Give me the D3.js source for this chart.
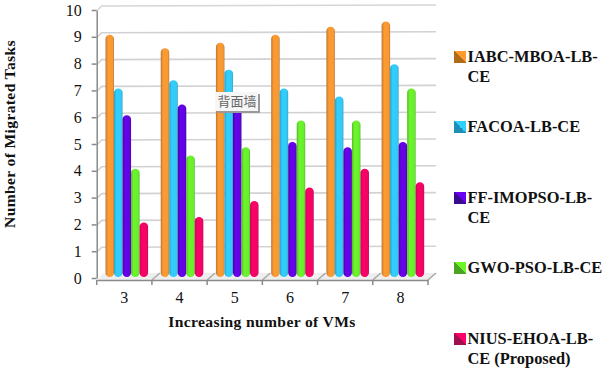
<!DOCTYPE html>
<meta charset="utf-8">
<style>
body { margin: 0; background: #fff; }
svg { display: block; }
text { font-family: "Liberation Serif", serif; fill: #111; }
.tick text { font-size: 16px; }
.axis path, .axis line { stroke: #8a8a8a; stroke-width: 1.5; }
.title { font-size: 15.6px; font-weight: bold; letter-spacing: 0.35px; }
.legend text { font-size: 16.4px; font-weight: bold; }
.tip text { font-family: "Noto Sans CJK SC", sans-serif; font-size: 13px; fill: #666; }
</style>
<body>
<script src="https://d3js.org/d3.v7.min.js"></script>
<script>

var categories = ["3", "4", "5", "6", "7", "8"];
var seriesNames = ["IABC-MBOA-LB-CE", "FACOA-LB-CE", "FF-IMOPSO-LB-CE", "GWO-PSO-LB-CE", "NIUS-EHOA-LB-CE (Proposed)"];
var iabc = [9, 8.5, 8.7, 9, 9.3, 9.5];
var facoa = [7, 7.3, 7.7, 7, 6.7, 7.9];
var ffImopso = [6, 6.4, 6.5, 5, 4.8, 5];
var gwoPso = [4, 4.5, 4.8, 5.8, 5.8, 7];
var nius = [2, 2.2, 2.8, 3.3, 4, 3.5];
var allSeries = [iabc, facoa, ffImopso, gwoPso, nius];
var yTicks = [0, 1, 2, 3, 4, 5, 6, 7, 8, 9, 10];

// [edge, middle, highlight] for the cylinders
var colors = [
  ["#b8793a", "#ff9a2e", "#f59a35"],
  ["#2f9fc4", "#2fd0ff", "#35c8f5"],
  ["#3c0a9c", "#6a00f0", "#5f05dd"],
  ["#58b82c", "#6df52a", "#66ee2e"],
  ["#c00a58", "#ff0068", "#f00564"]
];
var swatchDark = ["#b06a1a", "#1f8fb8", "#3a0a90", "#4aa524", "#a0104e"];
var legendLines = [
  ["IABC-MBOA-LB-", "CE"],
  ["FACOA-LB-CE"],
  ["FF-IMOPSO-LB-", "CE"],
  ["GWO-PSO-LB-CE"],
  ["NIUS-EHOA-LB-", "CE (Proposed)"]
];
var legendY = [62, 132, 203, 273, 344];

var x0 = 96.7, x1 = 428, yBase = 278, yTop = 10;
var depthX = 7, depthY = 5;

var svg = d3.select("body").append("svg").attr("width", 608).attr("height", 370);

var x = d3.scaleBand().domain(categories).range([x0, x1]);
var inner = d3.scaleBand().domain(d3.range(5)).range([0, 42.6]);
var y = d3.scaleLinear().domain([0, 10]).range([yBase, yTop]);

var defs = svg.append("defs");
colors.forEach(function(c, i) {
  var g = defs.append("linearGradient").attr("id", "bar" + i);
  g.append("stop").attr("offset", "0%").attr("stop-color", c[0]);
  g.append("stop").attr("offset", "30%").attr("stop-color", c[1]);
  g.append("stop").attr("offset", "85%").attr("stop-color", c[2]);
  g.append("stop").attr("offset", "100%").attr("stop-color", c[0]);
  var s = defs.append("linearGradient").attr("id", "swatch" + i)
    .attr("x1", 0).attr("y1", 1).attr("x2", 1).attr("y2", 0);
  s.append("stop").attr("offset", "50%").attr("stop-color", swatchDark[i]);
  s.append("stop").attr("offset", "50%").attr("stop-color", c[1]);
});

// back wall grid lines, they bend forward to meet the axis
var line = d3.line();
svg.append("g").selectAll("path").data(yTicks.slice(1)).enter().append("path")
  .attr("d", function(d) {
    return line([[x0 + 1, y(d)], [x0 + depthX - 2, y(d) - depthY + 1], [x1 + depthX + 1, y(d) - depthY]]);
  })
  .attr("fill", "none")
  .attr("stroke", function(d) { return d == 10 ? "#d6d6d6" : "#d2d2d2"; })
  .attr("stroke-width", 1.6);

// floor
svg.append("path")
  .attr("d", line([[x0, yBase + 2], [x1, yBase + 2], [x1 + depthX + 1, yBase - depthY], [x0 + depthX, yBase - depthY]]) + "Z")
  .attr("fill", "#eeeeee");
svg.append("g").selectAll("path").data(categories).enter().append("path")
  .attr("d", function(d) {
    return line([[x(d) + x.bandwidth(), yBase + 2], [x(d) + x.bandwidth() + depthX + 1, yBase - depthY]]);
  })
  .attr("stroke", "#a8a8a8").attr("stroke-width", 1.5);

var yAxis = d3.axisLeft(y).tickValues(yTicks).tickSize(5).tickPadding(10).tickSizeOuter(0);
svg.append("g").attr("class", "axis").attr("transform", "translate(" + x0 + ",0)").call(yAxis);

var xAxis = d3.axisBottom(x).tickSize(0).tickPadding(12);
var gx = svg.append("g").attr("class", "axis").attr("transform", "translate(0," + (yBase + 2) + ")").call(xAxis);
svg.append("g").selectAll("line").data(x.domain().concat(["end"])).enter().append("line")
  .attr("x1", function(d) { return d == "end" ? x0 : x(d) + x.bandwidth(); })
  .attr("x2", function(d) { return d == "end" ? x0 : x(d) + x.bandwidth(); })
  .attr("y1", yBase + 2).attr("y2", yBase + 7)
  .attr("stroke", "#8a8a8a").attr("stroke-width", 1.5);

// bars
allSeries.forEach(function(values, s) {
  svg.append("g").selectAll("rect").data(values).enter().append("rect")
    .attr("x", function(d, i) { return x(categories[i]) + 8.8 + inner(s); })
    .attr("width", inner.bandwidth())
    .attr("y", function(d) { return y(d) - 2; })
    .attr("height", function(d) { return yBase - 1 - y(d) + 2; })
    .attr("rx", 4.2)
    .attr("fill", "url(#bar" + s + ")");
});

svg.append("text").attr("class", "title")
  .attr("transform", "translate(15,134) rotate(-90)")
  .attr("text-anchor", "middle")
  .text("Number of Migrated Tasks");
svg.append("text").attr("class", "title")
  .attr("x", 262).attr("y", 327)
  .attr("text-anchor", "middle")
  .text("Increasing number of VMs");

// legend
var legend = svg.append("g").attr("class", "legend");
seriesNames.forEach(function(name, i) {
  legend.append("rect")
    .attr("x", 454).attr("y", legendY[i] - 11)
    .attr("width", 12).attr("height", 12)
    .attr("fill", "url(#swatch" + i + ")");
  legendLines[i].forEach(function(t, j) {
    legend.append("text").attr("x", 467.5).attr("y", legendY[i] + j * 19.5).text(t);
  });
});

// leftover hover label from the source picture
var tip = svg.append("g").attr("class", "tip");
tip.append("rect").attr("x", 218).attr("y", 94).attr("width", 42).attr("height", 19).attr("fill", "#9a9a9a");
tip.append("rect").attr("x", 216).attr("y", 92).attr("width", 42).attr("height", 19).attr("fill", "#f6f6f6");
tip.append("text").attr("x", 237).attr("y", 106).attr("text-anchor", "middle").text("背面墙");

</script>
</body>
